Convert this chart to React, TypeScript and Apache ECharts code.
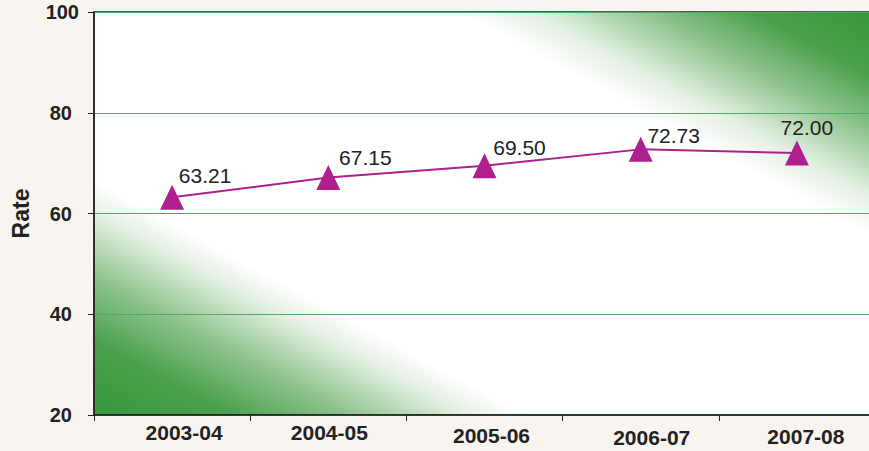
import React, { useEffect, useRef } from "react";
import * as echarts from "echarts";

const categories = ["2003-04", "2004-05", "2005-06", "2006-07", "2007-08"];
const rates = [63.21, 67.15, 69.5, 72.73, 72.0];
const yTicks = [20, 40, 60, 80, 100];

// label nudges (style only)
const labelOffsetsX = [33, 37, 35, 33, 10];
const labelOffsetsY = [1, 3, 5, 9, -3];
const catShiftX = [12, 1, 7, 11, 9];
const catShiftY = [0, 0, 3, 5, 4];

export default function App() {
  const ref = useRef<HTMLDivElement>(null);
  useEffect(() => {
    if (!ref.current) return;
    const chart = echarts.init(ref.current, undefined, { renderer: "svg" });
    const font = "'Liberation Sans', Arial, sans-serif";
    const tickStyle = {
      color: "#222",
      fontFamily: font,
      fontWeight: "bold",
      fontSize: 20,
    };
    chart.setOption({
      animation: false,
      backgroundColor: "#f8f5f0",
      grid: {
        left: 94,
        width: 781,
        top: 12,
        bottom: 36,
        outerBoundsMode: "none",
        containLabel: false,
        show: true,
        borderColor: "#222",
        borderWidth: 1.5,
        backgroundColor: new echarts.graphic.LinearGradient(0, 0.975, 1, 0.025, [
          { offset: 0, color: "#3a993d" },
          { offset: 0.08, color: "#4aa14c" },
          { offset: 0.16, color: "#8ec38d" },
          { offset: 0.24, color: "#e6f1e5" },
          { offset: 0.28, color: "#ffffff" },
          { offset: 0.73, color: "#ffffff" },
          { offset: 0.78, color: "#e6f1e5" },
          { offset: 0.86, color: "#8ec38d" },
          { offset: 0.93, color: "#4aa14c" },
          { offset: 1, color: "#3a993d" },
        ]),
      },
      xAxis: {
        type: "category",
        data: categories.map((c, i) => ({
          value: c,
          textStyle: { padding: [catShiftY[i], 0, 0, catShiftX[i] * 2] },
        })),
        boundaryGap: true,
        axisLine: { lineStyle: { color: "#222", width: 1.5 } },
        axisTick: { show: true, length: 6, lineStyle: { color: "#222" } },
        axisLabel: {
          color: "#222",
          fontFamily: font,
          fontWeight: "bold",
          fontSize: 21,
          margin: 7,
        },
      },
      yAxis: {
        type: "value",
        min: yTicks[0],
        max: yTicks[yTicks.length - 1],
        interval: yTicks[1] - yTicks[0],
        name: "Rate",
        nameLocation: "middle",
        nameGap: 62,
        nameTextStyle: {
          color: "#222",
          fontFamily: font,
          fontWeight: "bold",
          fontSize: 23,
        },
        axisLine: { show: true, lineStyle: { color: "#222", width: 1.5 } },
        axisTick: { show: true, length: 6, lineStyle: { color: "#222" } },
        axisLabel: {
          ...tickStyle,
          margin: 15,
          formatter: (v: number) => (v === 100 ? `{t|${v}}` : `{p|${v}}`),
          rich: {
            t: { ...tickStyle },
            p: { ...tickStyle, padding: [0, 7, 0, 0] },
          },
        },
        splitLine: { show: true, lineStyle: { color: "#4aae66", width: 1 } },
      },
      series: [
        {
          type: "line",
          data: rates.map((v, i) => ({
            value: v,
            label: { offset: [labelOffsetsX[i], labelOffsetsY[i]] },
          })),
          symbol: "triangle",
          symbolSize: [24, 25],
          lineStyle: { color: "#b01f8e", width: 2 },
          itemStyle: { color: "#b01f8e" },
          label: {
            show: true,
            position: "top",
            distance: 0,
            color: "#222",
            fontFamily: font,
            fontSize: 21,
            formatter: (p: any) => Number(p.value).toFixed(2),
          },
        },
      ],
    });
    return () => chart.dispose();
  }, []);
  return <div ref={ref} style={{ width: 869, height: 451, position: "fixed", left: 0, top: 0 }} />;
}
